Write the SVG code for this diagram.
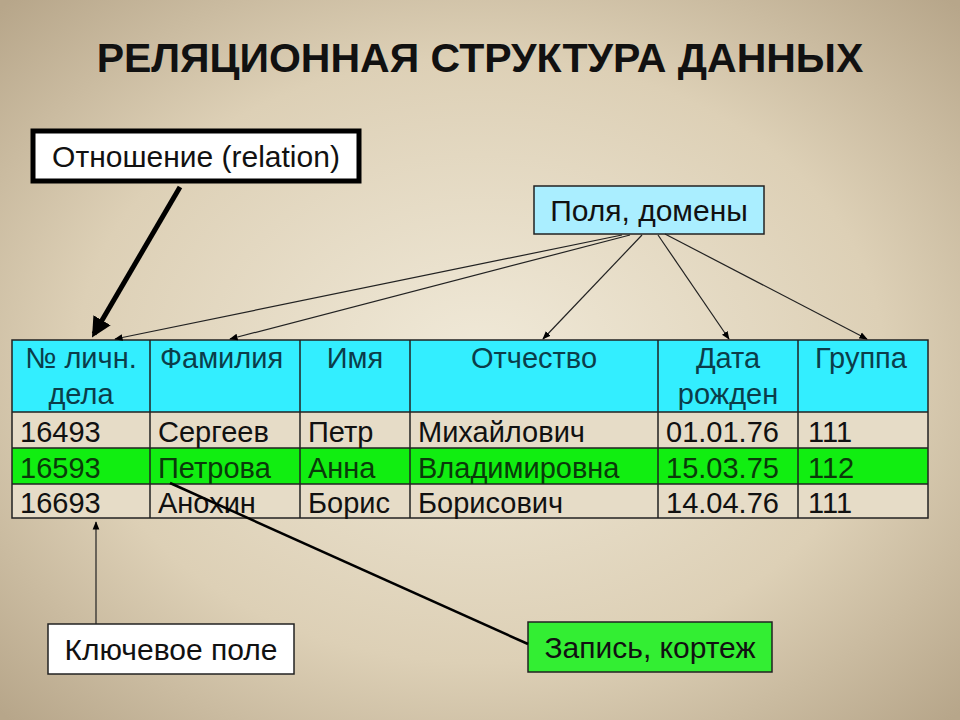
<svg xmlns="http://www.w3.org/2000/svg" width="960" height="720" viewBox="0 0 960 720">
<defs>
<radialGradient id="bg" cx="50%" cy="50%" r="70%">
<stop offset="0" stop-color="#f0e9d8"/><stop offset="0.6" stop-color="#ddd0b6"/><stop offset="1" stop-color="#b7a68a"/>
</radialGradient>
<marker id="ah" viewBox="0 0 10 10" refX="9" refY="5" markerWidth="7" markerHeight="7" orient="auto-start-reverse"><path d="M0,1 L10,5 L0,9 z" fill="#000"/></marker>
<marker id="ahb" viewBox="0 0 10 10" refX="8" refY="5" markerWidth="4" markerHeight="4" orient="auto"><path d="M0,0 L10,5 L0,10 z" fill="#000"/></marker>
</defs>
<style>
text{font-family:"Liberation Sans",Arial,sans-serif;font-size:29px;fill:#111}
.h{fill:#0b3d4a}
.g{fill:#0a3a0a}
.b{font-size:30px}
.c{stroke:#222;stroke-width:1.2;fill:none}
</style>
<rect width="960" height="720" fill="url(#bg)"/>
<text x="480" y="72" text-anchor="middle" style="font-size:41px;font-weight:bold">РЕЛЯЦИОННАЯ СТРУКТУРА ДАННЫХ</text>
<g id="table">
<rect x="12" y="340" width="916" height="72" fill="#33eeff"/>
<rect x="12" y="412" width="916" height="36" fill="#e6dcc7"/>
<rect x="12" y="448" width="916" height="36" fill="#11ee11"/>
<rect x="12" y="484" width="916" height="34" fill="#e6dcc7"/>
<g stroke="#222" stroke-width="1.5" fill="none">
<rect x="12" y="340" width="916" height="178"/>
<path d="M12,412H928M12,448H928M12,484H928M150,340V518M300,340V518M410,340V518M658,340V518M798,340V518"/>
</g>
<text class="h" x="81" y="368" text-anchor="middle">№ личн.</text>
<text class="h" x="81" y="404" text-anchor="middle">дела</text>
<text class="h" x="160" y="368">Фамилия</text>
<text class="h" x="355" y="368" text-anchor="middle">Имя</text>
<text class="h" x="534" y="368" text-anchor="middle">Отчество</text>
<text class="h" x="728" y="368" text-anchor="middle">Дата</text>
<text class="h" x="728" y="404" text-anchor="middle">рожден</text>
<text class="h" x="815" y="368">Группа</text>
<text x="20" y="442">16493</text><text x="158" y="442">Сергеев</text><text x="308" y="442">Петр</text><text x="418" y="442">Михайлович</text><text x="666" y="442">01.01.76</text><text x="808" y="442">111</text>
<text class="g" x="20" y="478">16593</text><text class="g" x="158" y="478">Петрова</text><text class="g" x="308" y="478">Анна</text><text class="g" x="418" y="478">Владимировна</text><text class="g" x="666" y="478">15.03.75</text><text class="g" x="808" y="478">112</text>
<text x="20" y="513">16693</text><text x="158" y="513">Анохин</text><text x="308" y="513">Борис</text><text x="418" y="513">Борисович</text><text x="666" y="513">14.04.76</text><text x="808" y="513">111</text>
</g>
<g id="relation"><rect x="33" y="131" width="326" height="50" fill="#fff" stroke="#000" stroke-width="5"/><text class="b" x="196" y="167" text-anchor="middle">Отношение (relation)</text></g>
<g id="fields"><rect x="534" y="186" width="230" height="48" fill="#aaeeff" stroke="#222" stroke-width="1.5"/><text class="b" x="649" y="221" text-anchor="middle">Поля, домены</text></g>
<g id="key"><rect x="48" y="624" width="246" height="50" fill="#fff" stroke="#222" stroke-width="1.5"/><text class="b" x="171" y="660" text-anchor="middle">Ключевое поле</text></g>
<g id="record"><rect x="528" y="622" width="244" height="50" fill="#33ee33" stroke="#222" stroke-width="1.5"/><text class="b" x="650" y="658" text-anchor="middle">Запись, кортеж</text></g>
<g id="connectors">
<line x1="180" y1="187" x2="94" y2="334" stroke="#000" stroke-width="5" marker-end="url(#ahb)"/>
<line class="c" x1="622" y1="235" x2="115" y2="339" marker-end="url(#ah)"/>
<line class="c" x1="630" y1="235" x2="230" y2="339" marker-end="url(#ah)"/>
<line class="c" x1="642" y1="235" x2="543" y2="339" marker-end="url(#ah)"/>
<line class="c" x1="658" y1="235" x2="729" y2="339" marker-end="url(#ah)"/>
<line class="c" x1="665" y1="234" x2="867" y2="339" marker-end="url(#ah)"/>
<line class="c" x1="96" y1="624" x2="96" y2="522" marker-end="url(#ah)"/>
<line x1="528" y1="644" x2="170" y2="483" stroke="#000" stroke-width="2.5"/>
</g>
</svg>
